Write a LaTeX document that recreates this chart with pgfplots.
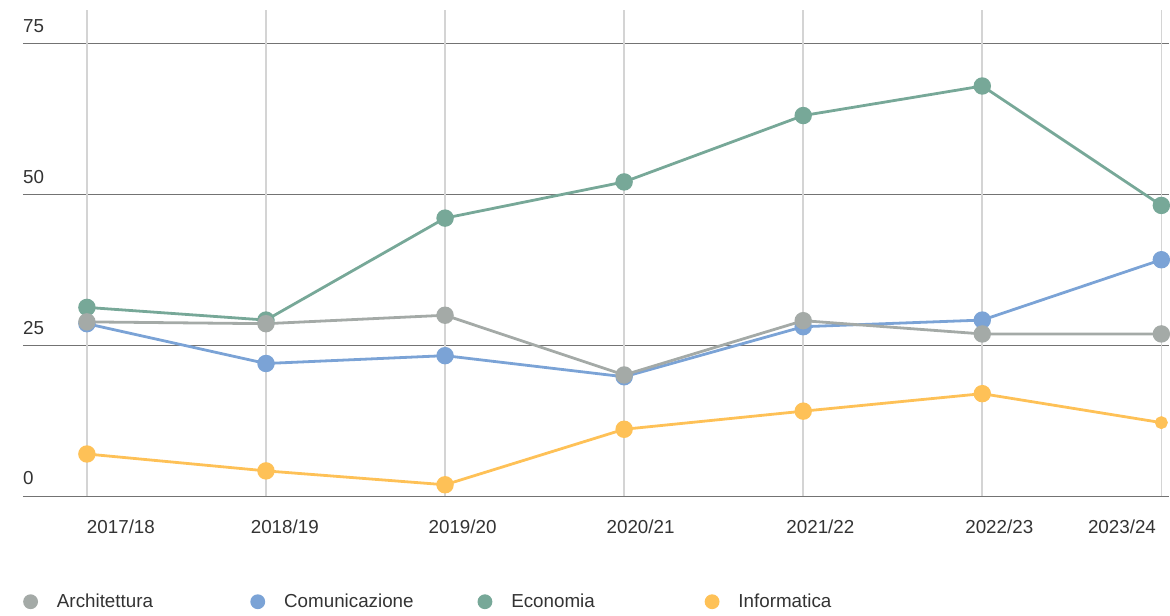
\documentclass[border=0pt]{standalone}
\usepackage{pgfplots}
\pgfplotsset{compat=1.18}
\usepackage{fontspec}
\setmainfont{Liberation Sans}
\definecolor{cArch}{HTML}{A4AAA7}
\definecolor{cCom}{HTML}{7BA3D6}
\definecolor{cEco}{HTML}{77A898}
\definecolor{cInf}{HTML}{FEC157}
\definecolor{txt}{HTML}{333333}
\begin{document}
\begin{tikzpicture}
\fontsize{18.8}{22}\selectfont
\begin{axis}[
  scale only axis,
  width=1147pt, height=486.5pt,
  xmin=-0.357, xmax=6.045,
  ymin=0, ymax=80.6,
  axis line style={draw=none},
  major tick length=0pt,
  tick style={draw=none},
  ytick={0,25,50,75},
  ymajorgrids=true,
  y grid style={color=black!55, line width=1.2pt},
  yticklabel style={anchor=south west, inner sep=0pt, yshift=11pt, text=txt, font=\fontsize{18.8}{22}\selectfont},
  xtick={0.19,1.105,2.098,3.092,4.096,5.095,5.78},
  xticklabels={2017/18,2018/19,2019/20,2020/21,2021/22,2022/23,2023/24},
  xticklabel style={anchor=north, inner sep=0pt, yshift=-23pt, text=txt, font=\fontsize{18.8}{22}\selectfont},
  extra x ticks={0,1,2,3,4,5,6},
  extra x tick labels={},
  extra x tick style={grid=major, major grid style={color=black!17, line width=1.6pt}},
  /pgf/number format/assume math mode=true,
  clip=false,
  legend columns=4,
  legend style={draw=none, fill=none, at={(0.0,-0.217)}, anchor=west, inner sep=0pt,
    font=\fontsize{18.8}{22}\selectfont, text=txt,
    /tikz/every even column/.append style={column sep=0pt}},
  legend image code/.code={\fill[#1] (0pt,0pt) circle (6pt);},
  every axis plot/.append style={line width=2.8pt, mark=*, mark size=7.3pt, mark options={draw=none}},
]
\addlegendimage{color=cArch}
\addlegendentry{\makebox[208.5pt][l]{\hspace{17pt}Architettura}}
\addlegendimage{color=cCom}
\addlegendentry{\makebox[208.5pt][l]{\hspace{17pt}Comunicazione}}
\addlegendimage{color=cEco}
\addlegendentry{\makebox[208.5pt][l]{\hspace{17pt}Economia}}
\addlegendimage{color=cInf}
\addlegendentry{\makebox[208.5pt][l]{\hspace{17pt}Informatica}}

\addplot[color=cEco, forget plot] coordinates {(0,31.3) (1,29.2) (2,46.1) (3,52.1) (4,63.1) (5,68.0) (6,48.2)};
\addplot[color=cCom, forget plot] coordinates {(0,28.6) (1,22.0) (2,23.3) (3,19.8) (4,28.1) (5,29.2) (6,39.2)};
\addplot[color=cArch, forget plot] coordinates {(0,28.9) (1,28.6) (2,30.0) (3,20.1) (4,29.1) (5,26.9) (6,26.9)};
\addplot[color=cInf, forget plot] coordinates {(0,7.0) (1,4.2) (2,1.9) (3,11.1) (4,14.1) (5,17.0)};
\addplot[color=cInf, forget plot, mark size=5pt] coordinates {(5,17.0) (6,12.2)};
\end{axis}
\useasboundingbox ([xshift=-23pt,yshift=-119.5pt]current axis.south west) rectangle ([yshift=10pt]current axis.north east);
\end{tikzpicture}
\end{document}
